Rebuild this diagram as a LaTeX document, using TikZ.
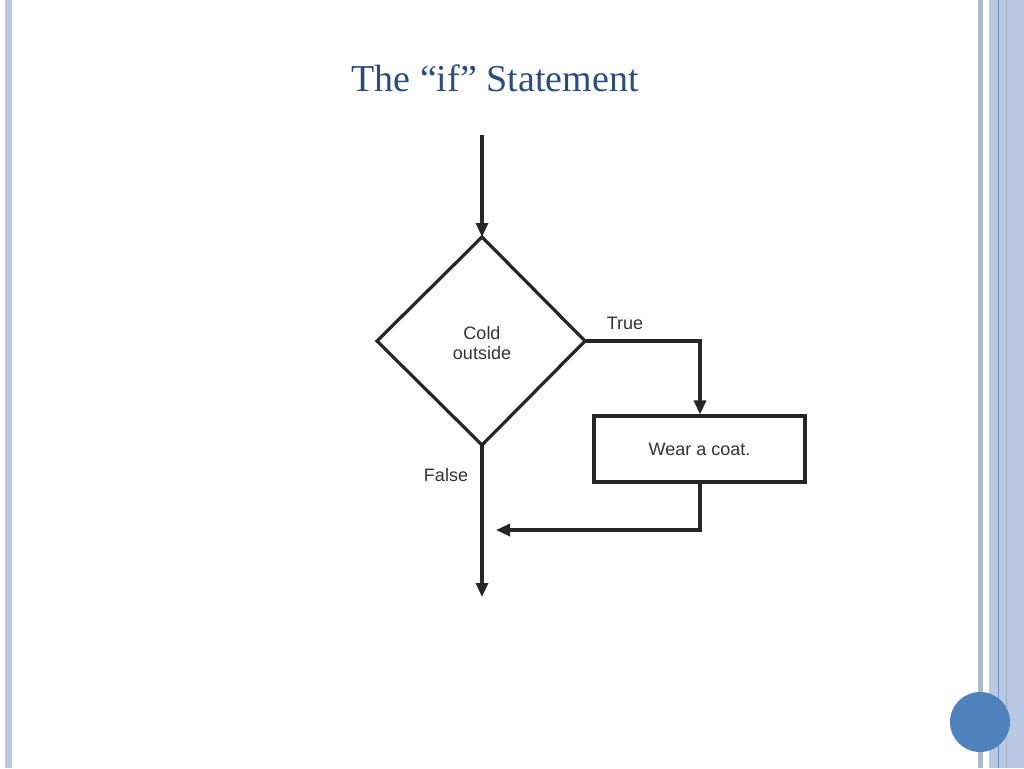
\documentclass[tikz,border=0pt]{standalone}
\usepackage{fontspec}
\newfontfamily\flowfont{Liberation Sans}
\setmainfont{Liberation Serif}
\usetikzlibrary{arrows.meta}
\definecolor{stripe}{HTML}{B8C8E2}
\definecolor{stripedark}{HTML}{6F8FC0}
\definecolor{titleblue}{HTML}{2B4C80}
\definecolor{dot}{HTML}{4F81BD}
\tikzset{
  flow/.style={line width=3.2pt, draw=black!85},
  arr/.style={flow, -{Triangle[length=14pt,width=12pt]}},
  lbl/.style={font=\flowfont\fontsize{18}{20}\selectfont, text=black!80},
}
\begin{document}
\begin{tikzpicture}[x=1pt,y=-1pt]
\useasboundingbox (0,0) rectangle (1024,768);
\fill[white] (0,0) rectangle (1024,768);
% borders
\fill[stripe] (5,0) rectangle (12,768);
\fill[stripe!80!gray] (978,0) rectangle (983,768);
\fill[stripe] (989,0) rectangle (1024,768);
\draw[stripedark, line width=1pt] (998,0) -- (998,768);
\draw[stripe!70!gray, line width=0.8pt] (1006,0) -- (1006,768);
\fill[dot] (980,722) circle (30);
% title
\node[text=titleblue, font=\fontsize{38}{40}\selectfont] (title) at (495,78) {T\textsc{he} ``\textsc{if}'' S\textsc{tatement}};
% flowchart
\coordinate (start) at (482,135);
\node[flow, diamond-free/.style={}, draw=none] (dc) at (482,341) {};
\coordinate (dt) at (482,237);
\coordinate (db) at (482,445);
\coordinate (dl) at (377,341);
\coordinate (dr) at (585,341);
\draw[flow, line join=miter] (dt) -- (dr) -- (db) -- (dl) -- cycle;
\node[lbl, align=center] (cond) at (482,343) {Cold\\outside};
\node[flow, minimum width=211pt, minimum height=66pt, lbl] (box) at (699.5,449) {Wear a coat.};
\draw[arr] (start) -- (dt);
\coordinate (tc) at (700,341);
\draw[arr] (dr) -- (tc) -- (box.north -| tc);
\coordinate (end) at (482,597);
\draw[arr] (db) -- (end);
\coordinate (jc) at (700,530);
\coordinate (jm) at (482,530);
\draw[arr] (box.south -| jc) -- (jc) -- ([xshift=14pt]jm);
\node[lbl] (t) at (625,323) {True};
\node[lbl] (f) at (446,475) {False};
\end{tikzpicture}
\end{document}
